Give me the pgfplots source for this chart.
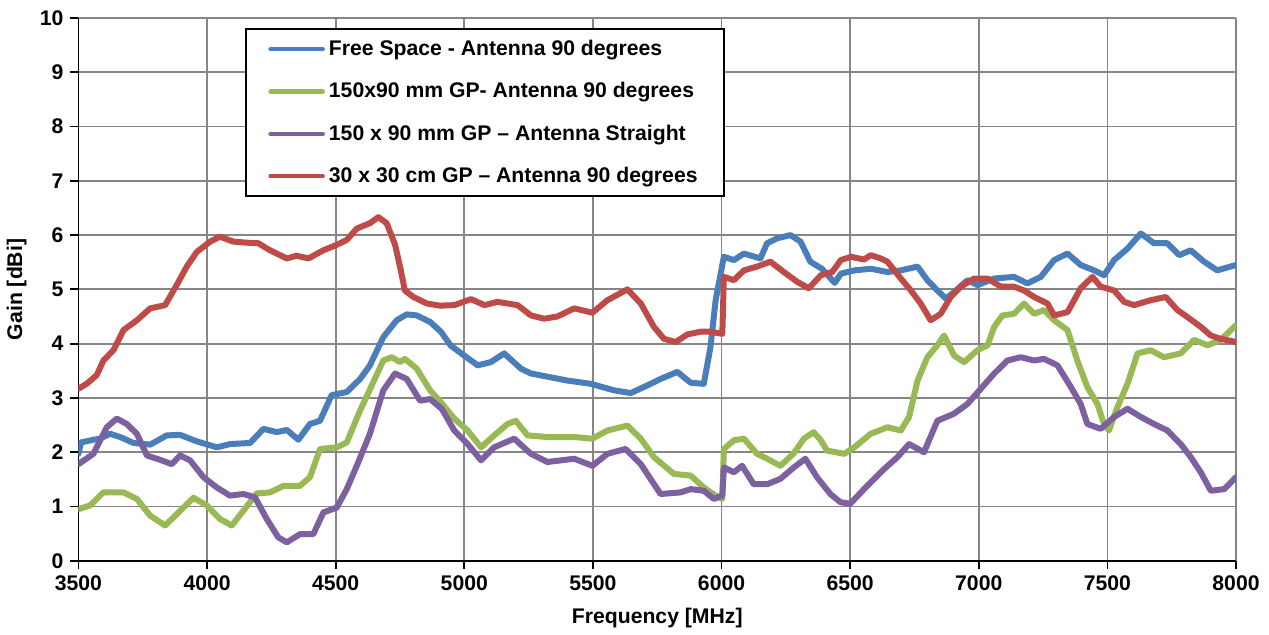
\documentclass[border=0pt]{standalone}
\usepackage{fontspec}
\setmainfont{Liberation Sans}
\usepackage{pgfplots}
\pgfplotsset{compat=1.18}
\definecolor{cblue}{RGB}{74,126,187}
\definecolor{cgreen}{RGB}{152,185,84}
\definecolor{cpurple}{RGB}{125,96,160}
\definecolor{cred}{RGB}{190,75,72}
\definecolor{cgrid}{RGB}{134,134,134}
\newcommand\ff{\fontsize{10.6}{12.7}\selectfont\bfseries}
\begin{document}
\begin{tikzpicture}
\begin{axis}[
  scale only axis, width=579pt, height=271.5pt,
  xmin=3500, xmax=8000, ymin=0, ymax=10,
  xtick={3500,4000,...,8000}, ytick={0,1,...,10},
  axis x line*=bottom, axis y line*=left,
  axis line style={black, line width=0.9pt, -},
  grid=major, grid style={cgrid, line width=0.9pt},
  tick align=outside, major tick length=4pt,
  tick style={black, line width=0.9pt},
  /pgf/number format/assume math mode=true,
  /pgf/number format/set thousands separator={},
  ticklabel style={font=\ff},
  xlabel={Frequency [MHz]}, ylabel={Gain [dBi]},
  label style={font=\ff},
  xlabel style={at={(axis description cs:0.5,-0.105)}, anchor=center},
  ylabel style={at={(axis description cs:-0.0535,0.5)}, anchor=center},
  legend cell align=left,
  legend image code/.code={\draw[#1,line width=2.3pt,line cap=round] (0pt,0pt) -- (26pt,0pt);},
  legend style={at={(axis description cs:0.1442,0.9816)}, anchor=north west,
    draw=black, line width=1pt, font=\ff, row sep=8pt, inner xsep=11pt, inner ysep=3.5pt,
    nodes={inner sep=2pt}},
  every axis plot/.append style={line width=3pt, line join=round, line cap=round},
]
\addplot[cblue] coordinates {
(3500,1.97)(3510,2.18)(3558,2.23)(3584,2.25)(3623,2.34)(3662,2.28)(3714,2.17)(3779,2.14)
(3843,2.31)(3895,2.32)(3960,2.20)(4038,2.09)(4089,2.15)(4167,2.17)(4219,2.43)(4271,2.37)
(4310,2.41)(4355,2.23)(4400,2.52)(4439,2.58)(4484,3.05)(4543,3.11)(4595,3.35)(4633,3.60)
(4685,4.12)(4737,4.43)(4776,4.54)(4815,4.52)(4867,4.40)(4909,4.22)(4948,3.96)(5000,3.78)
(5052,3.60)(5103,3.66)(5155,3.82)(5220,3.54)(5259,3.45)(5336,3.38)(5401,3.32)(5492,3.26)
(5582,3.14)(5647,3.09)(5711,3.23)(5763,3.35)(5828,3.48)(5880,3.28)(5931,3.26)(5957,3.94)
(5977,4.80)(6009,5.60)(6048,5.54)(6087,5.66)(6151,5.57)(6177,5.85)(6216,5.94)(6268,6.00)
(6307,5.88)(6345,5.51)(6390,5.38)(6440,5.12)(6464,5.29)(6516,5.35)(6580,5.38)(6645,5.32)
(6697,5.35)(6762,5.42)(6800,5.17)(6839,4.98)(6872,4.83)(6904,4.95)(6956,5.17)(6995,5.08)
(7060,5.20)(7137,5.23)(7189,5.11)(7241,5.23)(7293,5.54)(7345,5.66)(7396,5.45)(7448,5.35)
(7487,5.26)(7526,5.54)(7578,5.75)(7630,6.03)(7681,5.85)(7733,5.85)(7779,5.63)(7824,5.72)
(7876,5.51)(7927,5.35)(8000,5.45)};
\addlegendentry{Free Space - Antenna 90 degrees}
\addplot[cgreen] coordinates {
(3500,0.95)(3545,1.02)(3597,1.26)(3675,1.26)(3727,1.14)(3779,0.83)(3837,0.65)(3895,0.92)
(3947,1.16)(3999,1.02)(4050,0.77)(4096,0.65)(4141,0.92)(4193,1.24)(4245,1.26)(4297,1.38)
(4361,1.38)(4400,1.54)(4439,2.06)(4504,2.09)(4543,2.18)(4595,2.77)(4646,3.29)(4685,3.69)
(4718,3.75)(4750,3.66)(4769,3.72)(4815,3.54)(4867,3.14)(4909,2.92)(4961,2.62)(5013,2.40)
(5065,2.09)(5116,2.31)(5168,2.52)(5200,2.58)(5246,2.31)(5323,2.28)(5427,2.28)(5498,2.25)
(5556,2.40)(5634,2.49)(5686,2.25)(5737,1.91)(5815,1.60)(5880,1.57)(5931,1.35)(5977,1.20)
(6003,1.14)(6009,2.06)(6048,2.22)(6087,2.25)(6138,1.97)(6177,1.88)(6229,1.75)(6281,1.98)
(6320,2.25)(6358,2.37)(6386,2.22)(6410,2.03)(6477,1.97)(6516,2.09)(6580,2.34)(6645,2.46)
(6697,2.40)(6729,2.65)(6762,3.32)(6800,3.75)(6839,3.97)(6865,4.15)(6904,3.78)(6943,3.66)
(6995,3.88)(7034,3.97)(7060,4.31)(7092,4.52)(7137,4.55)(7176,4.74)(7215,4.55)(7254,4.62)
(7293,4.43)(7345,4.25)(7383,3.69)(7422,3.20)(7461,2.89)(7487,2.52)(7506,2.40)(7539,2.83)
(7578,3.26)(7617,3.82)(7668,3.88)(7720,3.75)(7785,3.82)(7837,4.07)(7889,3.97)(7940,4.07)
(8000,4.34)};
\addlegendentry{150x90 mm GP- Antenna 90 degrees}
\addplot[cpurple] coordinates {
(3500,1.78)(3558,1.97)(3610,2.46)(3649,2.62)(3688,2.52)(3727,2.34)(3766,1.94)(3817,1.86)
(3863,1.78)(3895,1.94)(3934,1.85)(3986,1.54)(4038,1.35)(4089,1.20)(4141,1.23)(4186,1.17)
(4232,0.77)(4277,0.43)(4310,0.34)(4361,0.49)(4413,0.49)(4452,0.89)(4504,0.98)(4543,1.32)
(4582,1.75)(4633,2.34)(4685,3.14)(4731,3.45)(4776,3.35)(4828,2.95)(4867,2.98)(4912,2.80)
(4961,2.40)(5013,2.15)(5065,1.85)(5116,2.09)(5194,2.25)(5259,1.97)(5323,1.82)(5427,1.88)
(5498,1.75)(5556,1.97)(5627,2.06)(5686,1.78)(5763,1.23)(5841,1.26)(5880,1.32)(5931,1.29)
(5970,1.14)(6003,1.20)(6009,1.72)(6048,1.63)(6080,1.75)(6125,1.41)(6177,1.41)(6229,1.51)
(6281,1.72)(6326,1.88)(6371,1.54)(6423,1.23)(6462,1.08)(6500,1.05)(6554,1.32)(6632,1.69)
(6684,1.91)(6729,2.15)(6787,2.00)(6839,2.58)(6904,2.71)(6956,2.89)(7008,3.17)(7060,3.45)
(7111,3.69)(7163,3.75)(7215,3.69)(7254,3.72)(7306,3.60)(7358,3.20)(7396,2.89)(7422,2.52)
(7474,2.43)(7526,2.65)(7578,2.80)(7630,2.65)(7681,2.52)(7733,2.40)(7785,2.15)(7824,1.91)
(7863,1.63)(7902,1.29)(7954,1.32)(8000,1.54)};
\addlegendentry{150 x 90 mm GP – Antenna Straight}
\addplot[cred] coordinates {
(3500,3.17)(3532,3.26)(3571,3.42)(3597,3.69)(3636,3.88)(3675,4.25)(3727,4.43)(3779,4.65)
(3837,4.71)(3882,5.08)(3921,5.42)(3960,5.69)(4012,5.88)(4050,5.97)(4102,5.88)(4154,5.86)
(4199,5.85)(4245,5.72)(4310,5.57)(4348,5.62)(4394,5.57)(4452,5.72)(4504,5.82)(4543,5.91)
(4582,6.12)(4633,6.22)(4666,6.33)(4698,6.22)(4731,5.82)(4750,5.42)(4769,4.98)(4802,4.86)
(4854,4.74)(4905,4.70)(4961,4.71)(5026,4.82)(5078,4.71)(5129,4.77)(5207,4.71)(5259,4.52)
(5310,4.46)(5362,4.50)(5427,4.65)(5498,4.57)(5556,4.80)(5634,5.00)(5686,4.74)(5737,4.31)
(5776,4.09)(5822,4.03)(5867,4.17)(5918,4.22)(5957,4.22)(6003,4.18)(6009,5.23)(6048,5.17)
(6087,5.35)(6138,5.42)(6190,5.51)(6242,5.32)(6294,5.14)(6339,5.02)(6386,5.26)(6430,5.32)
(6464,5.54)(6503,5.60)(6554,5.55)(6580,5.63)(6619,5.57)(6645,5.51)(6697,5.20)(6736,4.98)
(6774,4.74)(6813,4.43)(6852,4.55)(6891,4.86)(6930,5.05)(6982,5.20)(7034,5.20)(7086,5.05)
(7137,5.05)(7176,4.98)(7215,4.86)(7267,4.74)(7293,4.52)(7345,4.58)(7396,5.02)(7442,5.23)
(7474,5.05)(7526,4.98)(7565,4.77)(7604,4.71)(7668,4.80)(7727,4.86)(7772,4.62)(7811,4.49)
(7863,4.31)(7902,4.15)(7940,4.09)(8000,4.03)};
\addlegendentry{30 x 30 cm GP – Antenna 90 degrees}
\end{axis}
\path ([xshift=-39pt,yshift=-35.5pt]current axis.south west) rectangle ([xshift=16.5pt,yshift=9pt]current axis.north east);
\end{tikzpicture}
\end{document}
